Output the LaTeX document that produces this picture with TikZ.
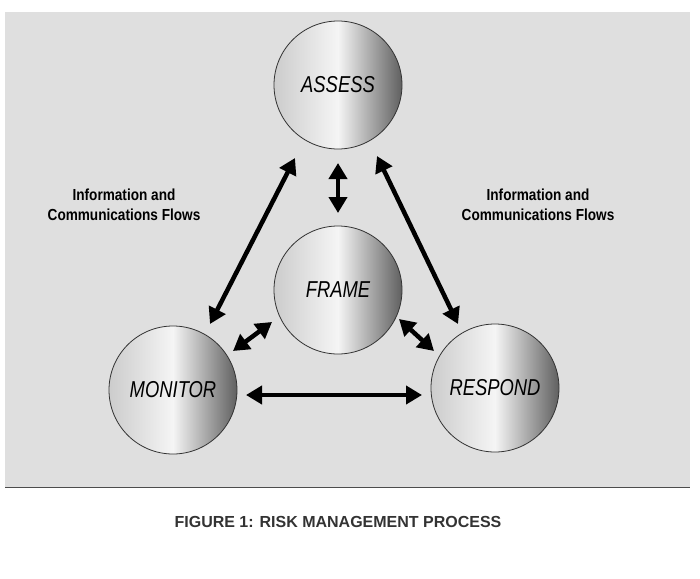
\documentclass[tikz,border=0pt]{standalone}
\usepackage{fontspec}
\setmainfont{Liberation Sans}
\usetikzlibrary{arrows.meta}
\begin{document}
\begin{tikzpicture}[x=1pt,y=-1pt,
  proc/.style={circle,draw=black!80,line width=0.8pt,minimum size=128pt,inner sep=0pt,
    left color=gray!40,right color=gray!75!black,middle color=gray!8,
    font=\fontsize{23}{26}\selectfont\itshape},
  flow/.style={line width=4.5pt,{Triangle[length=16pt,width=18pt]}-{Triangle[length=16pt,width=18pt]}},
  lbl/.style={align=center,font=\fontsize{16}{20}\selectfont\bfseries,xscale=0.85}]
\useasboundingbox (0,0) rectangle (700,578);
\fill[gray!25] (5,12) rectangle (690,487);
\draw[line width=1pt,black!70] (5,487) -- (690,487);
\node[proc] (as) at (338,85) {\scalebox{0.8}[1]{ASSESS}};
\node[proc] (fr) at (338,290) {\scalebox{0.8}[1]{FRAME}};
\node[proc] (mo) at (173,390) {\scalebox{0.8}[1]{MONITOR}};
\node[proc] (re) at (495,388) {\scalebox{0.8}[1]{RESPOND}};
\coordinate (a1) at (295,158); \coordinate (m1) at (210,324);
\coordinate (a2) at (377,156); \coordinate (r1) at (458,324);
\coordinate (a3) at (338,163); \coordinate (f1) at (338,213);
\coordinate (f2) at (272,322); \coordinate (m2) at (233,351);
\coordinate (f3) at (399,319); \coordinate (r2) at (434,351);
\coordinate (m3) at (246,395); \coordinate (r3) at (422,395);
\draw[flow] (a1) -- (m1);
\draw[flow] (a2) -- (r1);
\draw[flow] (a3) -- (f1);
\draw[flow] (f2) -- (m2);
\draw[flow] (f3) -- (r2);
\draw[flow] (m3) -- (r3);
\node[lbl] (l1) at (124,205) {Information and\\Communications Flows};
\node[lbl] (l2) at (538,205) {Information and\\Communications Flows};
\node[font=\fontsize{16}{19}\selectfont\bfseries,text=black!80] (cap) at (338,522) {FIGURE 1: RISK MANAGEMENT PROCESS};
\end{tikzpicture}
\end{document}
